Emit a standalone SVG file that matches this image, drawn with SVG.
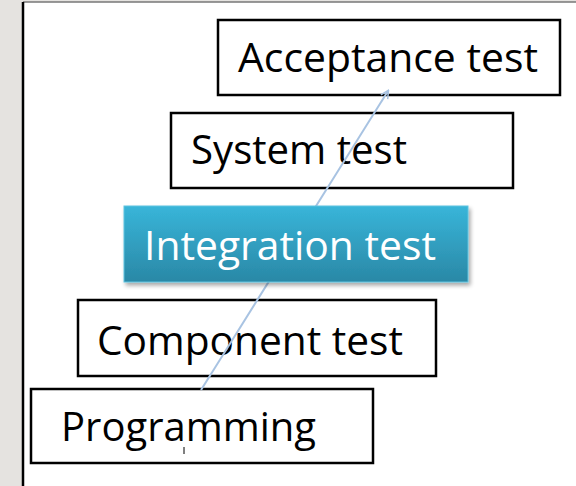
<svg xmlns="http://www.w3.org/2000/svg" width="576" height="486" viewBox="0 0 576 486">
<defs>
<linearGradient id="g" x1="0" y1="0" x2="0" y2="1">
<stop offset="0" stop-color="#38b5d9"/>
<stop offset="1" stop-color="#2a88a6"/>
</linearGradient>
<filter id="sh" x="-10%" y="-20%" width="120%" height="150%">
<feGaussianBlur in="SourceAlpha" stdDeviation="2"/>
<feOffset dx="2" dy="3"/>
<feComponentTransfer><feFuncA type="linear" slope="0.35"/></feComponentTransfer>
<feMerge><feMergeNode/><feMergeNode in="SourceGraphic"/></feMerge>
</filter>
<marker id="ah" markerWidth="10" markerHeight="10" refX="8" refY="5" orient="auto" markerUnits="userSpaceOnUse">
<path d="M1,1 L9,5 L1,9" fill="none" stroke="#a8c3e2" stroke-width="1.5"/>
</marker>
</defs>
<style>
.box{fill:#fff;stroke:#000;stroke-width:2.5}
.lbl{font-family:"Open Sans","Lato","Liberation Sans",sans-serif;font-size:40px;fill:#000}
</style>
<rect x="0" y="0" width="576" height="486" fill="#fff"/>
<rect x="0" y="0" width="23" height="486" fill="#e5e3e0"/>
<rect x="0" y="0" width="576" height="2" fill="#e5e3e0"/>
<line x1="23" y1="2" x2="576" y2="2" stroke="#777" stroke-width="1.5"/>
<line x1="23" y1="2" x2="23" y2="486" stroke="#000" stroke-width="2.5"/>
<g id="acceptance"><rect class="box" x="218" y="20" width="342" height="75"/><text class="lbl" x="238" y="72" textLength="300" lengthAdjust="spacingAndGlyphs">Acceptance test</text></g>
<g id="system"><rect class="box" x="171" y="113" width="342" height="75"/><text class="lbl" x="191" y="164" textLength="216" lengthAdjust="spacingAndGlyphs">System test</text></g>
<g id="component"><rect class="box" x="78" y="300" width="358" height="76"/><text class="lbl" x="97" y="355" textLength="306" lengthAdjust="spacingAndGlyphs">Component test</text></g>
<g id="programming"><rect class="box" x="31" y="389" width="342" height="74"/><text class="lbl" x="61" y="441" textLength="255" lengthAdjust="spacingAndGlyphs">Programming</text><line x1="184" y1="447" x2="184" y2="454" stroke="#000" stroke-width="1"/></g>
<g id="connectors"><line x1="201" y1="390" x2="388" y2="91" stroke="#a8c3e2" stroke-width="2" marker-end="url(#ah)"/></g>
<g id="integration"><rect x="124" y="206" width="344" height="76" fill="url(#g)" stroke="#5fc3df" stroke-width="1" filter="url(#sh)"/><text class="lbl" x="144" y="260" textLength="292" lengthAdjust="spacingAndGlyphs" style="fill:#fff">Integration test</text></g>
</svg>
